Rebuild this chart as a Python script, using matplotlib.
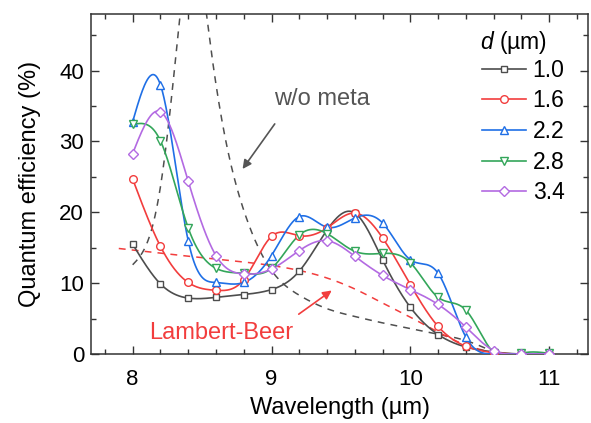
import numpy as np
import matplotlib
matplotlib.use("Agg")
import matplotlib.pyplot as plt
from matplotlib.lines import Line2D
from matplotlib.ticker import MultipleLocator

plt.rcParams['font.family'] = ['Liberation Sans', 'DejaVu Sans']
plt.rcParams['mathtext.fontset'] = 'custom'
plt.rcParams['mathtext.it'] = 'Liberation Sans:italic'
plt.rcParams['mathtext.rm'] = 'Liberation Sans'

# ---------------- data ----------------
wavelength = [8.0, 8.2, 8.4, 8.6, 8.8, 9.0, 9.2, 9.4, 9.6, 9.8, 10.0, 10.2, 10.4, 10.6, 10.8, 11.0]
qe_d10 = [15.5, 9.9, 7.9, 8.0, 8.4, 9.1, 11.7, 17.5, 19.9, 13.3, 6.6, 2.75, 1.0, 0.3, 0.0, 0.0]
qe_d16 = [24.7, 15.2, 10.1, 9.0, 10.5, 16.6, 16.7, 17.8, 19.9, 16.4, 9.8, 3.9, 1.1, 0.2, 0.0, 0.0]
qe_d22 = [32.8, 38.0, 16.0, 10.1, 10.1, 13.9, 19.4, 17.9, 19.2, 18.5, 13.3, 11.4, 2.4, 0.0, 0.0, 0.0]
qe_d28 = [32.4, 30.1, 17.8, 12.1, 11.4, 12.1, 16.8, 17.0, 14.5, 14.2, 12.9, 8.0, 6.2, 0.2, 0.1, 0.1]
qe_d34 = [28.3, 34.2, 24.4, 13.9, 11.3, 12.0, 14.6, 16.0, 13.8, 11.1, 9.1, 7.0, 3.8, 0.5, 0.0, 0.0]
thickness_labels = ['1.0', '1.6', '2.2', '2.8', '3.4']

wometa_x = [8.0, 8.1, 8.2, 8.3, 8.43, 8.55, 8.65, 8.8, 9.0, 9.2, 9.4, 9.6, 9.8, 10.0, 10.2, 10.4, 10.6]
wometa_y = [12.6, 15.5, 23.6, 40.0, 58.0, 45.1, 32.2, 20.3, 11.8, 8.3, 6.4, 5.3, 4.4, 3.6, 2.8, 1.9, 0.3]

lb_x = [7.9, 8.6, 9.0, 9.2, 9.42, 9.62, 9.81, 10.0, 10.2, 10.41, 10.6]
lb_y = [14.9, 13.4, 12.5, 11.8, 10.6, 9.0, 7.1, 5.2, 3.1, 1.2, 0.2]


def natural_spline(x, y, n=600):
    x = np.asarray(x, float)
    y = np.asarray(y, float)
    m = len(x)
    h = np.diff(x)
    A = np.zeros((m, m))
    b = np.zeros(m)
    A[0, 0] = A[-1, -1] = 1
    for i in range(1, m - 1):
        A[i, i - 1] = h[i - 1]
        A[i, i] = 2 * (h[i - 1] + h[i])
        A[i, i + 1] = h[i]
        b[i] = 3 * ((y[i + 1] - y[i]) / h[i] - (y[i] - y[i - 1]) / h[i - 1])
    c = np.linalg.solve(A, b)
    xs = np.linspace(x[0], x[-1], n)
    idx = np.clip(np.searchsorted(x, xs) - 1, 0, m - 2)
    dx = xs - x[idx]
    bc = (y[1:] - y[:-1]) / h - h * (2 * c[:-1] + c[1:]) / 3
    dc = (c[1:] - c[:-1]) / (3 * h)
    ys = y[idx] + bc[idx] * dx + c[idx] * dx ** 2 + dc[idx] * dx ** 3
    return xs, ys


fig = plt.figure(figsize=(5.91, 4.23), dpi=100)
ax = fig.add_axes([0.154, 0.163, 0.841, 0.804])

gray = '#4f4f4f'
colors = ['#4d4d4d', '#f23d3d', '#1f6fe6', '#33a65a', '#b36ae2']
markers = ['s', 'o', '^', 'v', 'D']
msizes = [5.0, 5.5, 6.0, 6.0, 5.0]
series = [qe_d10, qe_d16, qe_d22, qe_d28, qe_d34]

# dashed reference curves
xs, ys = natural_spline(wometa_x, wometa_y)
ax.plot(xs, ys, ls=(0, (4.5, 4)), color=gray, lw=1.1, zorder=2)
xs, ys = natural_spline(lb_x, lb_y)
ax.plot(xs, ys, ls=(0, (4.5, 4)), color='#f23d3d', lw=1.1, zorder=2)

handles = []
for yv, c, mk, ms, lab in zip(series, colors, markers, msizes, thickness_labels):
    xs, ys = natural_spline(wavelength, yv)
    ax.plot(xs, ys, color=c, lw=1.2, zorder=3)
    ax.plot(wavelength, yv, ls='none', marker=mk, ms=ms, mfc='white', mec=c, mew=1.0, zorder=4)
    handles.append(Line2D([], [], color=c, lw=1.2, marker=mk, ms=ms, mfc='white', mec=c, mew=1.0, label=lab))

ax.set_xlim(7.7, 11.28)
ax.set_ylim(0, 48)
ax.xaxis.set_major_locator(MultipleLocator(1))
ax.xaxis.set_minor_locator(MultipleLocator(0.2))
ax.yaxis.set_major_locator(MultipleLocator(10))
ax.yaxis.set_minor_locator(MultipleLocator(5))
ax.tick_params(which='both', direction='in', top=True, right=True, width=1.0, labelsize=16, color='#333333')
ax.tick_params(which='major', length=6)
ax.tick_params(axis='x', which='major', pad=11)
ax.tick_params(axis='y', which='major', pad=5)
ax.tick_params(which='minor', length=3.5)
for s in ax.spines.values():
    s.set_linewidth(1.1)
    s.set_color('#333333')

ax.set_xlabel('Wavelength (µm)', fontsize=17, labelpad=5)
ax.set_ylabel('Quantum efficiency (%)', fontsize=17, labelpad=13)

ax.text(9.364, 36.0, 'w/o meta', fontsize=17, color='#555555', ha='center', va='center')
ax.annotate('', xy=(8.78, 25.8), xytext=(9.035, 32.8),
            arrowprops=dict(arrowstyle='-|>', color='#555555', lw=1.2, mutation_scale=13))
ax.text(8.64, 3.0, 'Lambert-Beer', fontsize=17, color='#f23d3d', ha='center', va='center')
ax.annotate('', xy=(9.45, 9.2), xytext=(9.18, 5.4),
            arrowprops=dict(arrowstyle='-|>', color='#f23d3d', lw=1.2, mutation_scale=13))

leg = ax.legend(handles=handles, loc='upper left',
                bbox_to_anchor=(0.787, 0.868), frameon=False, fontsize=16.5,
                handlelength=1.9, handletextpad=0.3, labelspacing=0.33,
                borderpad=0.0, borderaxespad=0.0)
ax.text(0.783, 0.915, r'$d$ (µm)', transform=ax.transAxes, fontsize=16.5,
        ha='left', va='center')

fig.savefig('out.png', dpi=100)
